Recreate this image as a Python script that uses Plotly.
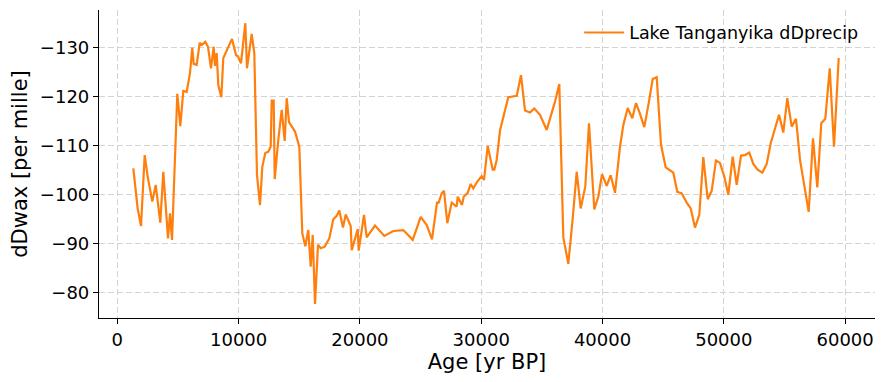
import plotly.graph_objects as go

age = [1319, 1680, 1954, 2258, 2504, 2885, 3165, 3545, 3792, 4180, 4345, 4510, 4946, 5194, 5441, 5721,
       5993, 6183, 6299, 6546, 6793, 6983, 7255, 7477, 7725, 7947, 8054, 8193, 8327, 8574, 8739, 9456,
       9786, 9951, 10198, 10553, 10693, 11080, 11294, 11517, 11764, 11954, 12201, 12449, 12646, 12729,
       12893, 12976, 13273, 13553, 13800, 13965, 14155, 14650, 15004, 15252, 15499, 15746, 15944, 16109,
       16298, 16546, 16768, 17098, 17477, 17807, 18087, 18302, 18607, 18829, 19241, 19324, 19596, 19818,
       19901, 20338, 20560, 21244, 22012, 22754, 23578, 24353, 25012, 25507, 25944, 26356, 26496, 26744,
       26934, 27206, 27568, 27980, 28063, 28417, 28557, 28887, 29134, 29349, 29679, 30041, 30231, 30536,
       30948, 31080, 31278, 31550, 32234, 32927, 33281, 33611, 34023, 34378, 34848, 35400, 36084, 36439,
       36769, 37181, 37544, 37874, 38203, 38582, 38887, 39325, 39654, 39959, 40346, 40676, 41031, 41443,
       41715, 42077, 42457, 42762, 43092, 43446, 43809, 44139, 44468, 44823, 45210, 45837, 46167, 46529,
       46942, 47271, 47626, 47980, 48310, 48673, 49002, 49357, 49686, 50041, 50371, 50734, 51063, 51418,
       51748, 52102, 52432, 52795, 53174, 53537, 53867, 54221, 54551, 54906, 55235, 55598, 55953, 56283,
       56637, 56999, 57354, 57708, 58038, 58368, 58731, 59085, 59472]

dDprecip = [-105.3, -97.1, -93.5, -108.0, -103.6, -98.5, -101.9, -94.2, -104.6, -91.0, -96.1, -90.7,
            -120.5, -113.9, -121.1, -120.9, -124.7, -129.9, -126.6, -126.4, -130.9, -130.5, -131.1, -130.1,
            -125.7, -130.1, -126.2, -128.8, -122.3, -119.8, -127.8, -131.7, -128.4, -128.1, -126.7, -134.9,
            -125.7, -132.7, -128.8, -103.9, -97.8, -105.6, -108.4, -108.7, -109.7, -119.1, -119.1, -103.1,
            -111.1, -117.2, -110.9, -119.6, -114.7, -112.8, -109.7, -92.0, -89.4, -92.7, -85.2, -91.7,
            -77.6, -89.7, -89.0, -89.3, -91.0, -94.9, -95.6, -96.7, -93.2, -95.9, -93.5, -88.6, -90.9,
            -92.9, -88.5, -95.8, -91.2, -93.6, -91.5, -92.5, -92.7, -90.7, -95.4, -93.7, -90.8, -98.3,
            -98.3, -100.2, -100.7, -94.1, -98.3, -97.5, -99.5, -97.8, -99.5, -100.3, -102.1, -101.2,
            -102.6, -103.7, -102.9, -109.9, -105.0, -105.0, -107.0, -113.0, -119.8, -120.1, -124.3,
            -117.1, -116.7, -117.5, -116.2, -113.1, -118.9, -122.5, -91.2, -85.8, -95.1, -104.6, -97.1,
            -101.6, -114.5, -96.9, -99.5, -104.1, -101.7, -103.9, -100.3, -109.7, -114.1, -117.6, -115.5,
            -118.6, -116.4, -113.7, -118.6, -123.5, -123.9, -110.1, -105.5, -104.4, -100.5, -100.2, -98.3,
            -97.1, -93.2, -95.8, -107.6, -99.0, -100.7, -106.9, -106.4, -103.6, -99.9, -107.7, -101.9,
            -107.9, -108.0, -108.5, -106.2, -105.0, -104.4, -106.2, -110.4, -113.5, -116.2, -112.6,
            -119.6, -113.8, -115.4, -107.0, -101.6, -96.4, -111.4, -101.4, -114.5, -115.4, -125.7,
            -109.7, -127.8]

series_name = "Lake Tanganyika dDprecip"
x_ticks = [0, 10000, 20000, 30000, 40000, 50000, 60000]
y_ticks = [-130, -120, -110, -100, -90, -80]

fig = go.Figure()
fig.add_trace(go.Scatter(x=age, y=dDprecip, mode="lines", name=series_name,
                         line=dict(color="#ff7f0e", width=2.2)))

axis_common = dict(
    showline=True, linecolor="black", linewidth=1.2, mirror=False,
    ticks="outside", ticklen=5, tickwidth=1.2, tickcolor="black",
    showgrid=True, gridcolor="#d3d3d3", griddash="6px,3px", gridwidth=1,
    zeroline=False, automargin=False,
    tickfont=dict(size=18, color="black", family="DejaVu Sans"),
)

fig.update_layout(
    width=877, height=374,
    margin=dict(l=91, r=10, t=2, b=64),
    paper_bgcolor="white", plot_bgcolor="white",
    font=dict(family="DejaVu Sans", color="black"),
    showlegend=True,
    legend=dict(x=0.986, y=0.985, xanchor="right", yanchor="top",
                bgcolor="rgba(0,0,0,0)", font=dict(size=17.5, color="black"),
                itemwidth=40),
    xaxis=dict(range=[-1509, 62465], tickvals=x_ticks, tickformat="d",
               title=dict(text="Age [yr BP]", font=dict(size=21), standoff=4),
               **axis_common),
    yaxis=dict(range=[-74.75, -137.6], tickvals=y_ticks,
               title=dict(text="dDwax [per mille]", font=dict(size=21), standoff=6),
               **axis_common),
)

fig.write_html("out.html")
